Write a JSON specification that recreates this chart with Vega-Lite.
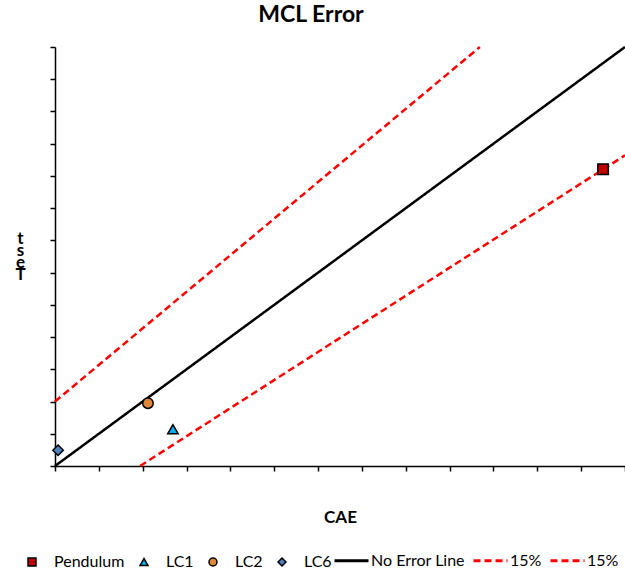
{
  "$schema": "https://vega.github.io/schema/vega-lite/v6.json",
  "width": 570,
  "height": 419,
  "autosize": {"type": "none"},
  "padding": {"left": 55, "top": 47, "right": 0, "bottom": 107},
  "background": "white",
  "title": {"text": "MCL Error", "font": "Lato", "fontSize": 23, "fontWeight": "bold", "anchor": "middle", "offset": 15, "dx": -29, "color": "black"},
  "config": {"view": {"stroke": null}, "font": "Lato"},
  "datasets": {
    "lines": [
      {"series": "No Error Line", "x": 0, "y": 0},
      {"series": "No Error Line", "x": 13, "y": 13},
      {"series": "15%", "x": 0, "y": 2},
      {"series": "15%", "x": 9.69, "y": 13},
      {"series": "15% ", "x": 1.94, "y": 0},
      {"series": "15% ", "x": 13, "y": 9.64}
    ],
    "points": [
      {"name": "Pendulum", "x": 12.5, "y": 9.21},
      {"name": "LC1", "x": 2.69, "y": 1.14},
      {"name": "LC2", "x": 2.12, "y": 1.95},
      {"name": "LC6", "x": 0.07, "y": 0.49}
    ]
  },
  "encoding": {
    "x": {"field": "x", "type": "quantitative", "scale": {"domain": [0, 13], "nice": false, "zero": false},
      "axis": {"title": "CAE", "titleFont": "Lato", "titleFontSize": 17, "titleFontWeight": "bold", "titleColor": "black", "titlePadding": 38,
        "labels": false, "grid": false, "values": [0,1,2,3,4,5,6,7,8,9,10,11,12,13], "domainColor": "black", "domainWidth": 1.5, "tickColor": "black", "tickWidth": 1.5, "tickSize": 5}},
    "y": {"field": "y", "type": "quantitative", "scale": {"domain": [0, 13], "nice": false, "zero": false},
      "axis": {"title": ["t", "s", "e", "T"], "titleAngle": 0, "titleX": -35, "titleY": 196, "titleAlign": "center", "titleBaseline": "alphabetic", "titleLineHeight": 12,
        "titleFont": "Lato", "titleFontSize": 17, "titleFontWeight": "bold", "titleColor": "black",
        "labels": false, "grid": false, "values": [0,1,2,3,4,5,6,7,8,9,10,11,12,13], "domainColor": "black", "domainWidth": 1.5, "tickColor": "black", "tickWidth": 1.5, "tickSize": 5}}
  },
  "layer": [
    {
      "data": {"name": "lines"},
      "mark": {"type": "line", "strokeWidth": 2.5},
      "encoding": {
        "stroke": {"field": "series", "type": "nominal", "scale": {"domain": ["No Error Line", "15%", "15% "], "range": ["black", "red", "red"]},
          "legend": {"orient": "none", "legendX": 278, "legendY": 495, "direction": "horizontal", "title": null, "symbolType": "stroke", "symbolSize": 1156, "symbolStrokeWidth": 3,
            "labelFont": "Lato", "labelFontSize": 16, "labelColor": "black", "labelOffset": 1, "columnPadding": 2}},
        "strokeDash": {"field": "series", "type": "nominal", "scale": {"domain": ["No Error Line", "15%", "15% "], "range": [[1, 0], [7, 4], [7, 4]]},
          "legend": {"orient": "none", "legendX": 278, "legendY": 495, "direction": "horizontal", "title": null, "symbolType": "stroke", "symbolSize": 1156, "symbolStrokeWidth": 3,
            "labelFont": "Lato", "labelFontSize": 16, "labelColor": "black", "labelOffset": 1, "columnPadding": 2}}
      }
    },
    {
      "data": {"name": "points"},
      "mark": {"type": "point", "filled": true, "stroke": "black", "strokeWidth": 1.5, "opacity": 1, "size": 110},
      "encoding": {
        "fill": {"field": "name", "type": "nominal", "scale": {"domain": ["Pendulum", "LC1", "LC2", "LC6"], "range": ["#c00000", "#00b0f0", "#e0873a", "#4f81bd"]},
          "legend": {"orient": "none", "legendX": -31, "legendY": 507, "direction": "horizontal", "title": null, "symbolSize": 64,
            "labelFont": "Lato", "labelFontSize": 16, "labelColor": "black", "labelOffset": 14, "columnPadding": 11,
            "symbolOpacity": 1,
            "encode": {"symbols": {"update": {"stroke": {"value": "black"}, "strokeWidth": {"value": 1.5}}}}}},
        "shape": {"field": "name", "type": "nominal", "scale": {"domain": ["Pendulum", "LC1", "LC2", "LC6"], "range": ["square", "triangle-up", "circle", "diamond"]},
          "legend": {"orient": "none", "legendX": -31, "legendY": 507, "direction": "horizontal", "title": null, "symbolSize": 64,
            "labelFont": "Lato", "labelFontSize": 16, "labelColor": "black", "labelOffset": 14, "columnPadding": 11,
            "symbolOpacity": 1,
            "encode": {"symbols": {"update": {"stroke": {"value": "black"}, "strokeWidth": {"value": 1.5}}}}}}
      }
    }
  ]
}
